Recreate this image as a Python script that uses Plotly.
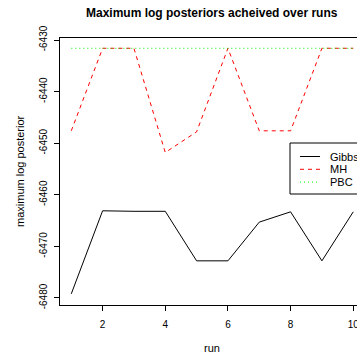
import plotly.graph_objects as go

runs = [1, 2, 3, 4, 5, 6, 7, 8, 9, 10]
gibbs = [-6479.2, -6463.1, -6463.2, -6463.2, -6472.8, -6472.8, -6465.3, -6463.3, -6472.8, -6463.3]
mh = [-6447.6, -6431.6, -6431.6, -6451.8, -6447.8, -6431.6, -6447.6, -6447.6, -6431.6, -6431.6]
pbc = [-6431.6, -6431.6, -6431.6, -6431.6, -6431.6, -6431.6, -6431.6, -6431.6, -6431.6, -6431.6]

x_ticks = [2, 4, 6, 8, 10]
y_ticks = [-6480, -6470, -6460, -6450, -6440, -6430]
y_tick_labels = ["-6480", "-6470", "-6460", "-6450", "-6440", "-6430"]

series_names = ["Gibbs", "MH", "PBC"]
series_colors = ["black", "#FF0000", "#00FF00"]
series_dash = ["solid", "4px,4px", "1px,3px"]

FONT = "Liberation Sans, Arial, Helvetica, sans-serif"

fig = go.Figure()
for name, vals, col, dash in zip(series_names, [gibbs, mh, pbc], series_colors, series_dash):
    fig.add_trace(go.Scatter(x=runs, y=vals, mode="lines", name=name,
                             line=dict(color=col, width=1, dash=dash),
                             showlegend=False, hoverinfo="skip"))

# plot area in pixels: x 60..357, y 38..305
L, T, W, H = 60, 38, 297, 267
def px(x):
    return (x - L) / W
def py(y):
    return (T + H - y) / H

shapes = []
annotations = []
# legend box
shapes.append(dict(type="rect", xref="paper", yref="paper",
                   x0=px(290), x1=px(365), y0=py(194), y1=py(143),
                   line=dict(color="black", width=1), fillcolor="white", layer="above"))
for i, (name, col, dash) in enumerate(zip(series_names, series_colors, series_dash)):
    yy = py(156.5 + 12.8 * i)
    shapes.append(dict(type="line", xref="paper", yref="paper",
                       x0=px(300), x1=px(320), y0=yy, y1=yy,
                       line=dict(color=col, width=1, dash=dash), layer="above"))
    annotations.append(dict(text=name, xref="paper", yref="paper", x=px(328), y=yy,
                            xanchor="left", yanchor="middle", showarrow=False,
                            font=dict(family=FONT, size=11, color="black")))

annotations.append(dict(text="<b>Maximum log posteriors acheived over runs</b>",
                        xref="paper", yref="paper", x=px(212), y=py(13),
                        xanchor="center", yanchor="middle", showarrow=False,
                        font=dict(family=FONT, size=12, color="black")))
annotations.append(dict(text="run", xref="paper", yref="paper", x=px(212), y=py(348),
                        xanchor="center", yanchor="middle", showarrow=False,
                        font=dict(family=FONT, size=11, color="black")))
annotations.append(dict(text="maximum log posterior", xref="paper", yref="paper",
                        x=px(20), y=py(171), textangle=-90,
                        xanchor="center", yanchor="middle", showarrow=False,
                        font=dict(family=FONT, size=11, color="black")))

fig.update_layout(
    template="none",
    width=357, height=358,
    margin=dict(l=L, r=0, t=T, b=358 - T - H, pad=0),
    paper_bgcolor="white", plot_bgcolor="white",
    font=dict(family=FONT, size=10, color="black"),
    shapes=shapes, annotations=annotations,
    showlegend=False,
)
fig.update_xaxes(range=[0.64, 0.64 + W / 31.33], tickvals=x_ticks, ticks="outside",
                 ticklen=5, tickwidth=1, tickcolor="black", showline=True,
                 linecolor="black", linewidth=1, mirror=True, showgrid=False,
                 zeroline=False, automargin=False, tickfont=dict(size=10),
                 ticklabeloverflow="allow", ticklabelstandoff=5)
fig.update_yaxes(range=[-6481.36, -6429.61], tickvals=y_ticks, ticktext=y_tick_labels,
                 ticks="outside", ticklen=5, tickwidth=1, tickcolor="black",
                 showline=True, linecolor="black", linewidth=1, mirror=False,
                 showgrid=False, zeroline=False, automargin=False, tickangle=-90,
                 tickfont=dict(size=10), ticklabeloverflow="allow", ticklabelstandoff=3)

fig.write_html("out.html", config={"displayModeBar": False},
               post_script="document.body.style.margin='0';document.body.style.overflow='hidden';")
